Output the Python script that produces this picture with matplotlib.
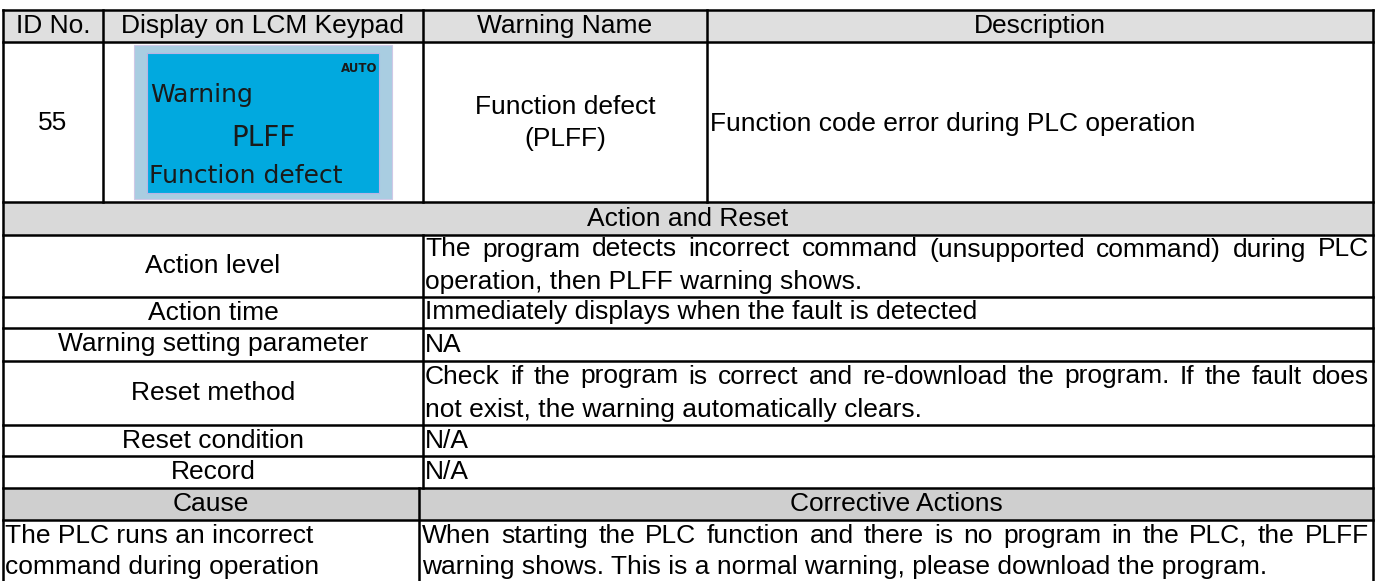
import matplotlib
matplotlib.use('Agg')
import matplotlib.pyplot as plt
from matplotlib.patches import Rectangle

# table content
header_cols = ["ID No.", "Display on LCM Keypad", "Warning Name", "Description"]
warning_id = "55"
lcd_mode = "AUTO"
lcd_lines = ["Warning", "PLFF", "Function defect"]
warning_name = ["Function defect", "(PLFF)"]
description = "Function code error during PLC operation"
section_title = "Action and Reset"
action_labels = ["Action level", "Action time", "Warning setting parameter",
                 "Reset method", "Reset condition", "Record"]
action_texts = [
    ["The program detects incorrect command (unsupported command) during PLC",
     "operation, then PLFF warning shows."],
    ["Immediately displays when the fault is detected"],
    ["NA"],
    ["Check if the program is correct and re-download the program. If the fault does",
     "not exist, the warning automatically clears."],
    ["N/A"],
    ["N/A"],
]
cause_header = ["Cause", "Corrective Actions"]
cause_text = ["The PLC runs an incorrect", "command during operation"]
corrective_text = ["When starting the PLC function and there is no program in the PLC, the PLFF",
                   "warning shows. This is a normal warning, please download the program."]

# layout (pixels)
W, H = 1381, 581
x_left, x_right = 3, 1373
col_x = [3, 103, 423, 707, 1373]
x_mid = 423
x_cause = 419
y_top = 10
y_head = 42
y_row1 = 202
y_sect = 235
action_rows = [235, 297, 328, 361, 425, 456, 488]
y_cause_head = 520

font = 'Liberation Sans'
fs = 19
lw = 1.8

fig = plt.figure(figsize=(W / 100, H / 100), dpi=100)
ax = fig.add_axes([0, 0, 1, 1])
ax.set_xlim(0, W)
ax.set_ylim(H, 0)
ax.axis('off')

# gray fills
ax.add_patch(Rectangle((x_left, y_top), x_right - x_left, y_head - y_top, color='#dfdfdf', lw=0))
ax.add_patch(Rectangle((x_left, y_row1), x_right - x_left, y_sect - y_row1, color='#d9d9d9', lw=0))
ax.add_patch(Rectangle((x_left, action_rows[-1]), x_right - x_left, y_cause_head - action_rows[-1],
                       color='#cfcfcf', lw=0))

# grid lines
for y in [y_top, y_head, y_row1] + action_rows + [y_cause_head]:
    ax.plot([x_left, x_right], [y, y], color='black', lw=lw, solid_capstyle='projecting')
ax.plot([x_left, x_left], [y_top, H], color='black', lw=lw)
ax.plot([x_right, x_right], [y_top, H], color='black', lw=lw)
for x in col_x[1:4]:
    ax.plot([x, x], [y_top, y_row1], color='black', lw=lw)
ax.plot([x_mid, x_mid], [y_sect, action_rows[-1]], color='black', lw=lw)
ax.plot([x_cause, x_cause], [action_rows[-1], H], color='black', lw=lw)

txt = dict(fontfamily=font, fontsize=fs, color='black')

# header
for i, h in enumerate(header_cols):
    ax.text((col_x[i] + col_x[i + 1]) / 2, 26, h, ha='center', va='center', **txt)

# first row
ax.text((col_x[0] + col_x[1]) / 2, 123, warning_id, ha='center', va='center', **txt)
for y, s in zip([107, 139], warning_name):
    ax.text((col_x[2] + col_x[3]) / 2, y, s, ha='center', va='center', **txt)
ax.text(col_x[3] + 3, 124, description, ha='left', va='center', **txt)

# LCD keypad picture
ax.add_patch(Rectangle((134, 45), 258, 154, facecolor='#a9cde1', edgecolor='#cfc8e6', lw=0.8))
ax.add_patch(Rectangle((147, 53), 232, 140, facecolor='#01a9df', edgecolor='#b9b4e4', lw=0.8))
ax.text(377, 68, lcd_mode, ha='right', va='center', fontfamily='DejaVu Sans',
        fontsize=8.5, fontweight='bold', color='#1a1a1a')
ax.text(150, 95, lcd_lines[0], ha='left', va='center', fontfamily='DejaVu Sans', fontsize=18, color='#1a1a1a')
ax.text(263, 138, lcd_lines[1], ha='center', va='center', fontfamily='DejaVu Sans', fontsize=20, color='#1a1a1a')
ax.text(149, 176, lcd_lines[2], ha='left', va='center', fontfamily='DejaVu Sans', fontsize=18, color='#1a1a1a')

renderer = fig.canvas.get_renderer()


def justified(x0, x1, y, line):
    words = line.split()
    items = [ax.text(0, y, w, ha='left', va='center', **txt) for w in words]
    widths = [t.get_window_extent(renderer).width for t in items]
    gap = (x1 - x0 - sum(widths)) / (len(words) - 1)
    x = x0
    for t, w in zip(items, widths):
        t.set_x(x)
        x += w + gap


def cell_lines(x0, x1, top, bottom, lines):
    step = 33
    yc = (top + bottom) / 2 - step * (len(lines) - 1) / 2
    for k, line in enumerate(lines):
        y = yc + k * step
        if k < len(lines) - 1:
            justified(x0, x1, y, line)
        else:
            ax.text(x0, y, line, ha='left', va='center', **txt)


# action and reset section
ax.text((x_left + x_right) / 2, (y_row1 + y_sect) / 2, section_title, ha='center', va='center', **txt)
for i, label in enumerate(action_labels):
    top, bottom = action_rows[i], action_rows[i + 1]
    ax.text((x_left + x_mid) / 2, (top + bottom) / 2, label, ha='center', va='center', **txt)
    cell_lines(x_mid + 2, x_right - 4, top, bottom, action_texts[i])

# cause section
ax.text((x_left + x_cause) / 2, (action_rows[-1] + y_cause_head) / 2, cause_header[0],
        ha='center', va='center', **txt)
ax.text((x_cause + x_right) / 2, (action_rows[-1] + y_cause_head) / 2, cause_header[1],
        ha='center', va='center', **txt)
for k, line in enumerate(cause_text):
    ax.text(x_left + 2, 536 + 31 * k, line, ha='left', va='center', **txt)
for k, line in enumerate(corrective_text):
    if k == 0:
        justified(x_cause + 3, x_right - 4, 536, line)
    else:
        ax.text(x_cause + 3, 536 + 31 * k, line, ha='left', va='center', **txt)

fig.savefig('out.png', dpi=100)
